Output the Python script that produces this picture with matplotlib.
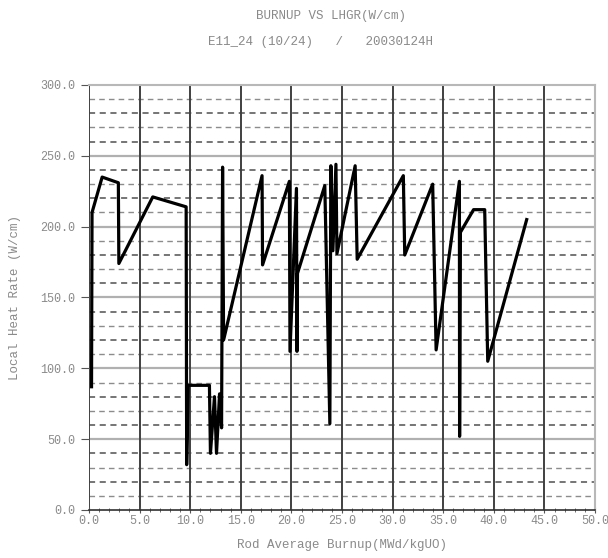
import matplotlib
matplotlib.use("Agg")
import matplotlib.pyplot as plt
import numpy as np

# burnup (MWd/kgU) vs local heat rate (W/cm)
burnup = [0.25, 0.3, 1.3, 2.9, 2.95, 6.3, 9.6, 9.65, 9.8, 11.9, 12.0, 12.4, 12.6,
          12.9, 13.1, 13.2, 13.3, 17.1, 17.15, 19.8, 19.86, 20.5, 20.55, 20.6,
          23.3, 23.8, 23.9, 24.1, 24.4, 24.5, 26.3, 26.5, 31.06, 31.2, 33.96,
          34.3, 36.6, 36.62, 36.7, 38.0, 39.1, 39.4, 43.25]
lhgr = [87, 210, 235, 231, 174, 221, 214, 32, 88, 88, 40, 80, 40,
        82, 58, 242, 120, 236, 173, 232, 112, 227, 112, 167,
        229, 61, 243, 183, 244, 181, 243, 177, 236, 180, 230,
        113, 232, 52, 196, 212, 212, 105, 205]

x_ticks = np.arange(0, 50.1, 5)
y_ticks = np.arange(0, 300.1, 50)

TXT = "#8a8a8a"
FONT = "Liberation Mono"

fig = plt.figure(figsize=(6.08, 5.58), dpi=100)
ax = fig.add_axes([89 / 608, 48 / 558, 506 / 608, 425 / 558])

# horizontal grid every 10, solid at the labelled values
for v in range(10, 300, 10):
    if v % 50 == 0:
        ax.axhline(v, color="#b0b0b0", lw=1.6, zorder=1)
    elif v % 20 == 0:
        ax.axhline(v, color="#505050", lw=1.1, ls=(0, (4, 3)), zorder=1)
    else:
        ax.axhline(v, color="#8c8c8c", lw=1.0, ls=(0, (4, 3)), zorder=1)
for v in x_ticks[:-1]:
    ax.axvline(v, color="#404040", lw=1.4, zorder=1)

ax.plot(burnup, lhgr, color="black", lw=2.3, zorder=3)

ax.set_xlim(0, 50)
ax.set_ylim(0, 300)
ax.set_xticks(x_ticks)
ax.set_xticklabels([f"{v:.1f}" for v in x_ticks])
ax.set_xticks(np.arange(0, 50.1, 1), minor=True)
ax.set_yticks(y_ticks)
ax.set_yticklabels([f"{v:.1f}" for v in y_ticks])

for s in ["top", "right"]:
    ax.spines[s].set_color("#b8b8b8")
    ax.spines[s].set_linewidth(1.5)
ax.spines["left"].set_visible(False)
ax.spines["bottom"].set_color("#303030")
ax.spines["bottom"].set_linewidth(1.2)

ax.tick_params(axis="y", which="major", length=6, pad=4, color="#555555",
               labelsize=8.5, labelcolor=TXT)
ax.tick_params(axis="x", which="major", length=4, pad=1.5, direction="inout",
               color="#555555", labelsize=8.5, labelcolor=TXT)
ax.tick_params(axis="x", which="minor", length=3, direction="inout", color="#555555")
for lab in ax.get_xticklabels() + ax.get_yticklabels():
    lab.set_family(FONT)

ax.set_xlabel("Rod Average Burnup(MWd/kgUO)", family=FONT, fontsize=9,
              color=TXT, labelpad=9)
ax.set_ylabel("Local Heat Rate (W/cm)", family=FONT, fontsize=9,
              color=TXT, labelpad=14)

fig.text(0.545, 0.972, "BURNUP VS LHGR(W/cm)", ha="center", va="center",
         family=FONT, fontsize=9, color=TXT)
fig.text(0.527, 0.925, "E11_24 (10/24)   /   20030124H", ha="center",
         va="center", family=FONT, fontsize=9, color=TXT)

fig.savefig("out.png", dpi=100)
